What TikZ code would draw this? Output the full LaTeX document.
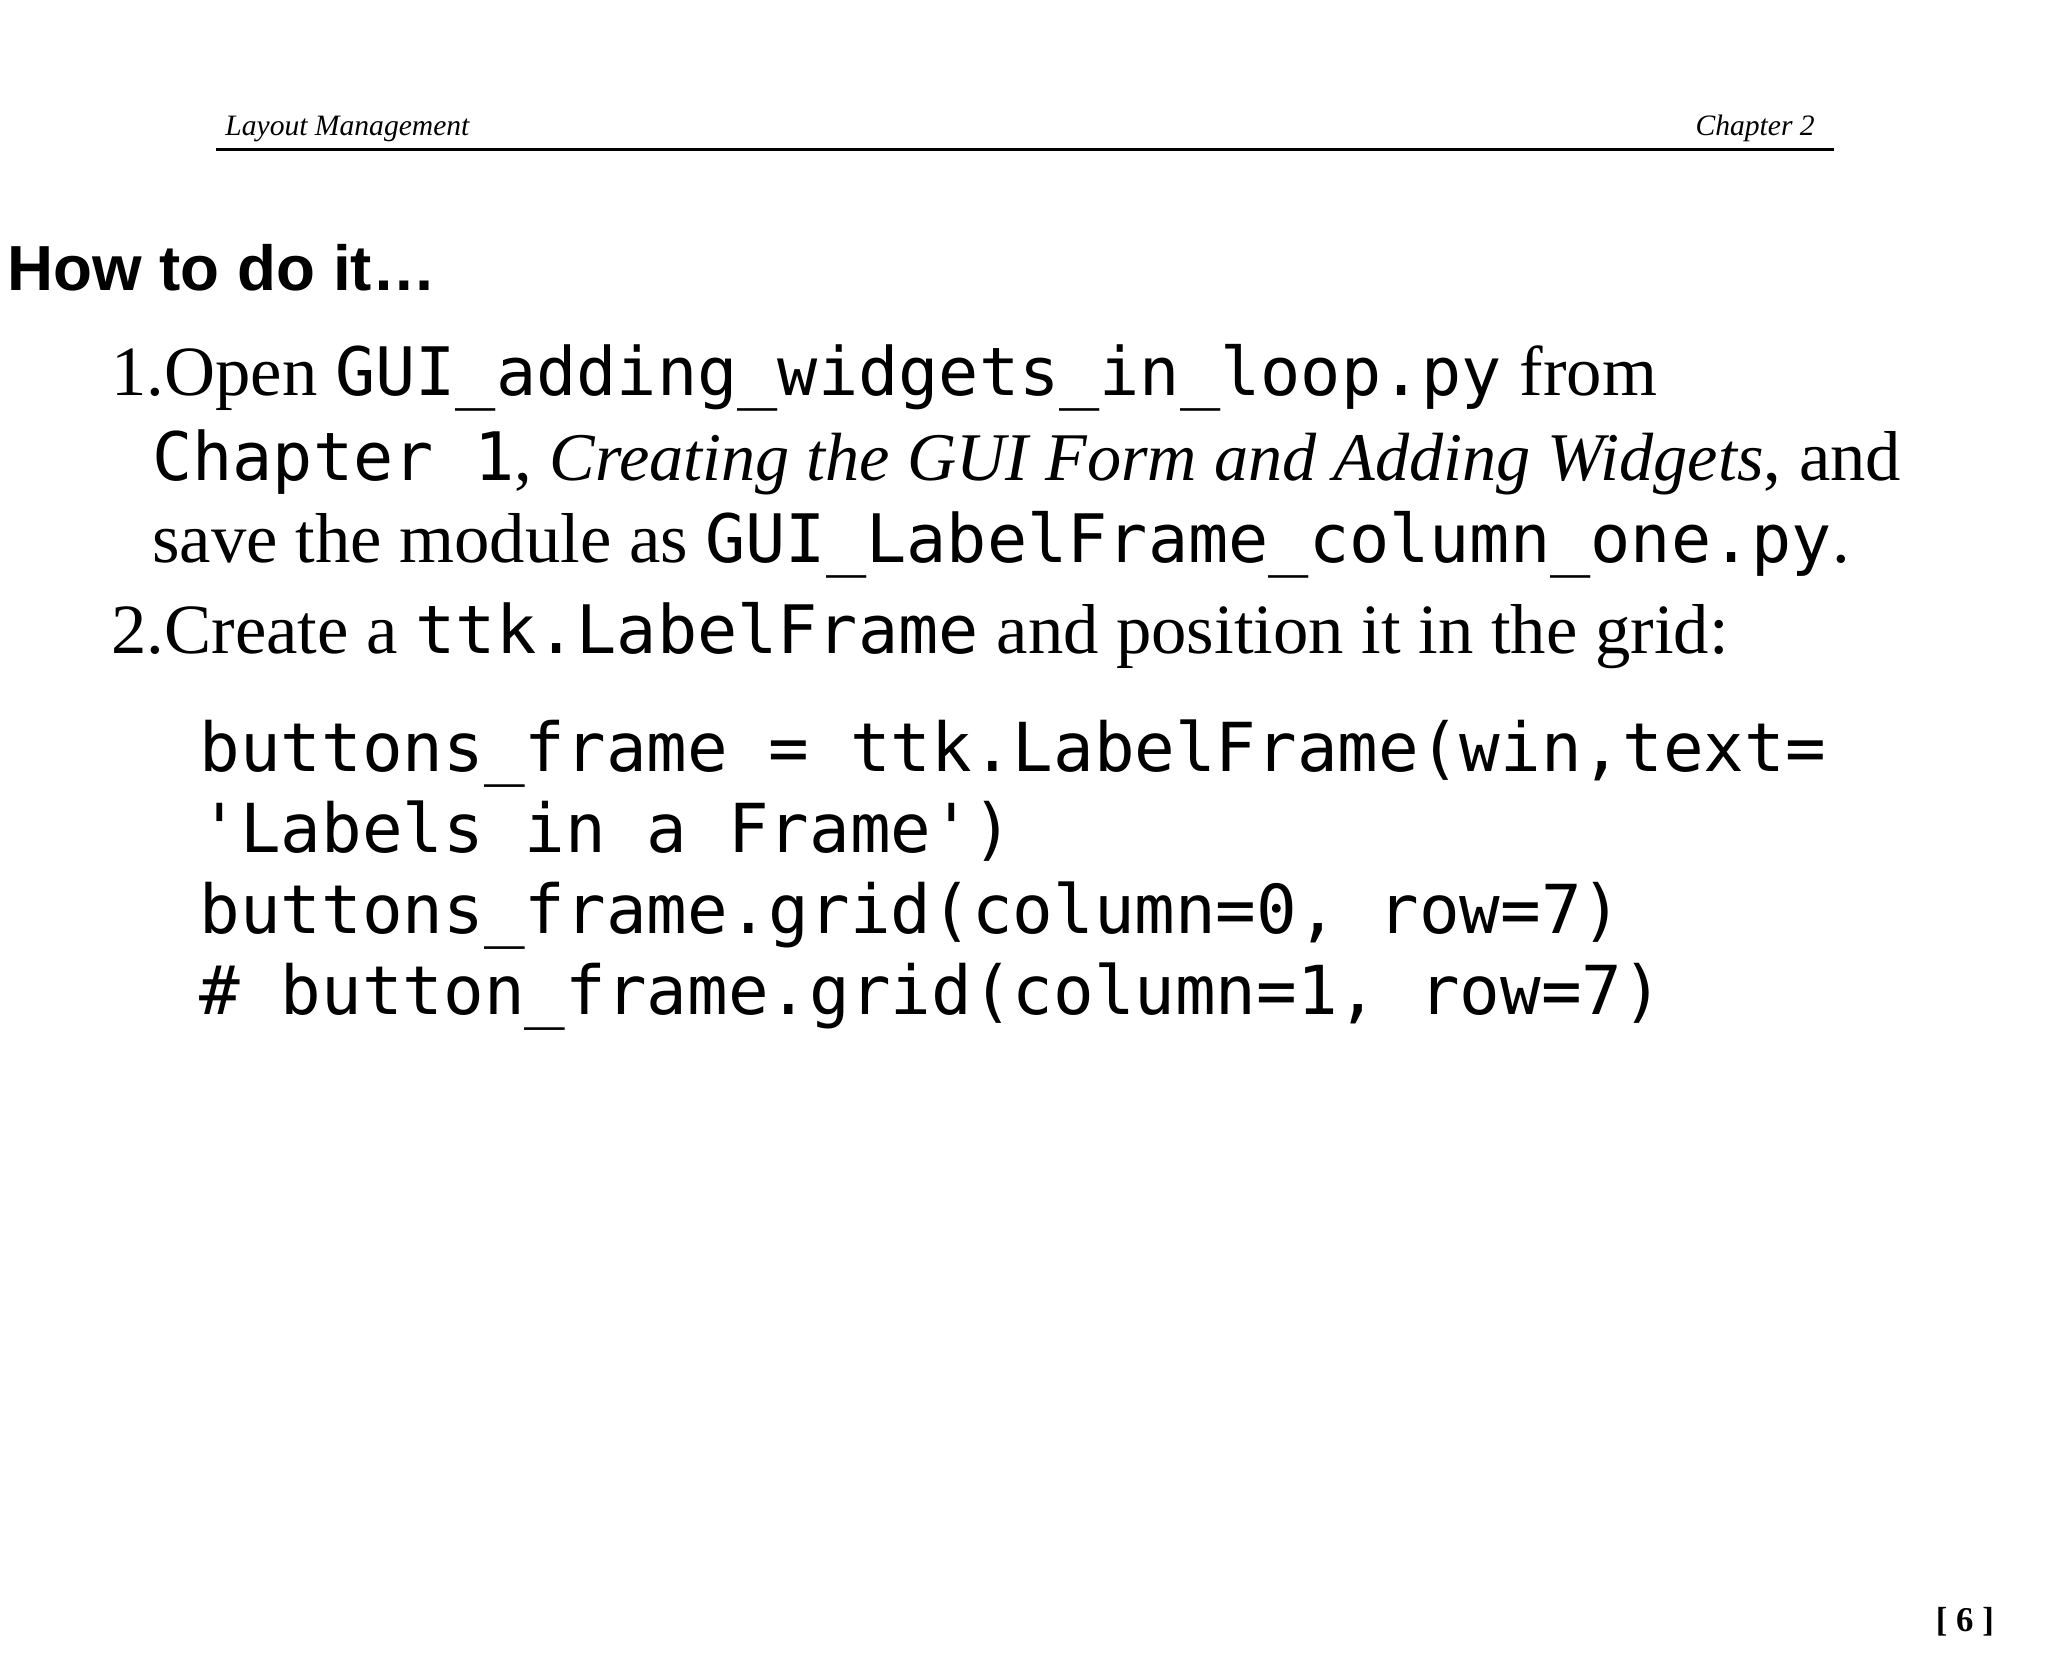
\documentclass[tikz,border=0pt]{standalone}
\usepackage{fontspec}
\setmainfont{Liberation Serif}
\newfontfamily\hsans{Liberation Sans}
\setmonofont{DejaVu Sans Mono}
\newcommand{\mt}[1]{{\fontsize{19.2}{24}\selectfont\ttfamily #1}}
\begin{document}
\begin{tikzpicture}[x=0.01cm,y=-0.01cm,
  txt/.style={anchor=base west,inner sep=0,font=\fontsize{20.3}{24}\selectfont},
  code/.style={anchor=base west,inner sep=0,font=\fontsize{19.4}{24}\selectfont\ttfamily}]
\useasboundingbox[fill=white] (0,0) rectangle (2069,1677);
\node[anchor=base west,inner sep=0,font=\fontsize{8.5}{10}\selectfont\itshape] (hl) at (227,137) {Layout Management};
\node[anchor=base east,inner sep=0,font=\fontsize{8.5}{10}\selectfont\itshape] (hr) at (1834,137) {Chapter 2};
\coordinate (r1) at (218,151); \coordinate (r2) at (1853,151);
\draw[line width=0.7pt] (r1) -- (r2);
\node[anchor=base west,inner sep=0,font=\fontsize{18.3}{22}\selectfont\hsans\bfseries] (h) at (7,293) {How to do it…};
\node[txt] (l1) at (112,400) {1.Open \mt{GUI\_adding\_widgets\_in\_loop.py} from};
\node[txt] (l2) at (153,485) {\mt{Chapter 1}, {\fontsize{19.6}{24}\selectfont\itshape Creating the GUI Form and Adding Widgets}, and};
\node[txt] (l3) at (153,568) {save the module as \mt{GUI\_LabelFrame\_column\_one.py}.};
\node[txt] (l4) at (112,660) {2.Create a \mt{ttk.LabelFrame} and position it in the grid:};
\node[code] (c1) at (201,779) {buttons\_frame = ttk.LabelFrame(win,text=};
\node[code] (c2) at (201,861) {'Labels in a Frame')};
\node[code] (c3) at (201,943) {buttons\_frame.grid(column=0, row=7)};
\node[code] (c4) at (201,1025) {\# button\_frame.grid(column=1, row=7)};
\node[anchor=base east,inner sep=0,font=\fontsize{10}{12}\selectfont\bfseries] (pg) at (2015,1648) {[ 6 ]};
\end{tikzpicture}
\end{document}
